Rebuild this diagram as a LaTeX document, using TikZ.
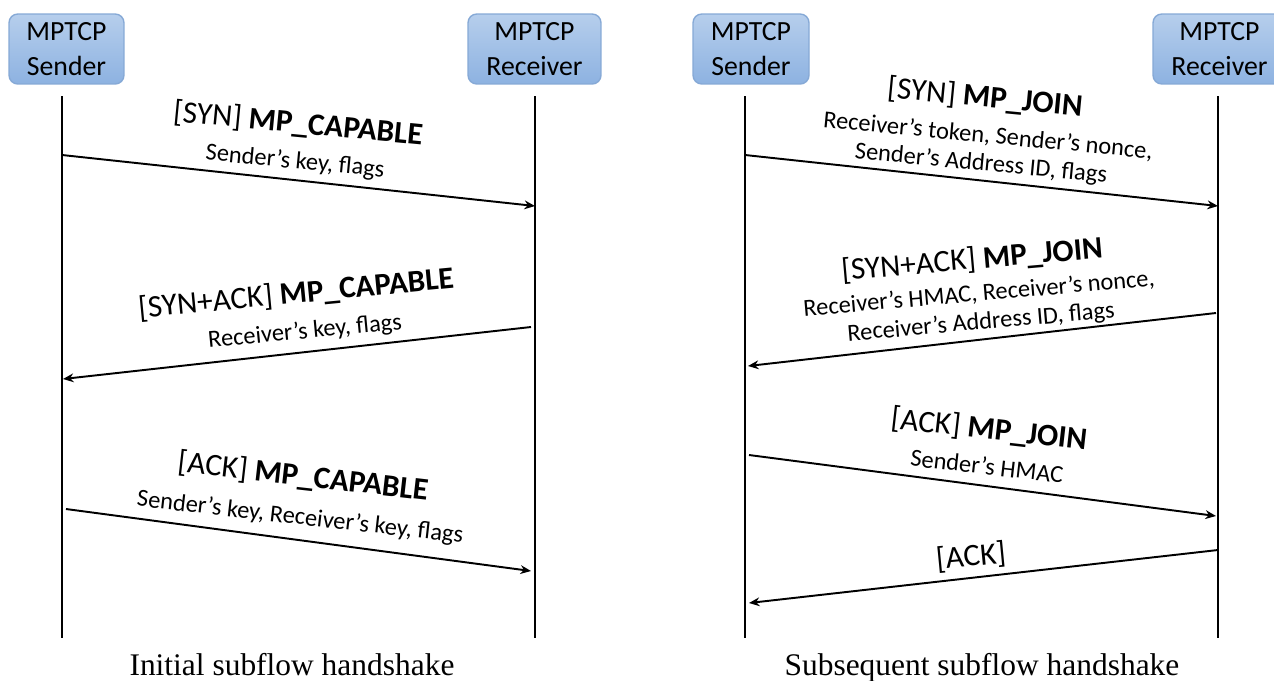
\documentclass[tikz,border=0pt]{standalone}
\usepackage{fontspec}
\setmainfont{Carlito}
\newfontfamily\capfont{Liberation Serif}
\usetikzlibrary{arrows.meta}
\definecolor{boxtop}{HTML}{B6CEEC}
\definecolor{boxbot}{HTML}{8DB2E1}
\definecolor{boxedge}{HTML}{86A9D6}
\tikzset{
  party/.style={rounded corners=5pt, top color=boxtop, bottom color=boxbot,
    draw=boxedge, line width=0.8pt, align=center, inner sep=0pt,
    minimum height=1.4cm, font=\fontsize{15.8}{19.5}\selectfont},
  lifeline/.style={line width=1.1pt},
  msg/.style={line width=1.1pt, -{Stealth[length=6pt,width=5pt]}},
  head/.style={inner sep=0pt, font=\fontsize{17.8}{20}\selectfont},
  body/.style={inner sep=0pt, font=\fontsize{13.9}{16}\selectfont},
  caption/.style={inner sep=0pt, anchor=base, font=\capfont\fontsize{17.9}{20}\selectfont}
}
\begin{document}
\begin{tikzpicture}[x=0.02cm, y=-0.02cm]
\clip (0,0) rectangle (1274,680);
\fill[white] (0,0) rectangle (1274,680);

% ---------- initial subflow handshake ----------
\node[party, minimum width=2.3cm]  (lsnd) at (66.5,49) {MPTCP\\Sender};
\node[party, minimum width=2.66cm] (lrcv) at (534.5,49) {MPTCP\\Receiver};

\coordinate (lsT) at (62,96);  \coordinate (lsB) at (62,638);
\coordinate (lrT) at (535,96); \coordinate (lrB) at (535,638);
\draw[lifeline] (lsT) -- (lsB);
\draw[lifeline] (lrT) -- (lrB);

\coordinate (l1a) at (62,155);  \coordinate (l1b) at (535,206);
\coordinate (l2a) at (531,327); \coordinate (l2b) at (63,379);
\coordinate (l3a) at (66,509);  \coordinate (l3b) at (531,571);
\draw[msg] (l1a) -- (l1b);
\draw[msg] (l2a) -- (l2b);
\draw[msg] (l3a) -- (l3b);

\node[head, rotate=-5.5] (l1h) at (298,124) {[SYN] \textbf{MP\_CAPABLE}};
\node[body, rotate=-5.5] (l1t) at (295,162) {Sender’s key, flags};

\node[head, rotate=5.5] (l2h) at (296,294) {[SYN+ACK] \textbf{MP\_CAPABLE}};
\node[body, rotate=5.5] (l2t) at (305,332) {Receiver’s key, flags};

\node[head, rotate=-6.5] (l3h) at (303,477) {[ACK] \textbf{MP\_CAPABLE}};
\node[body, rotate=-6.5] (l3t) at (300,518) {Sender’s key, Receiver’s key, flags};

\node[caption] (lcap) at (292,675) {Initial subflow handshake};

% ---------- subsequent subflow handshake ----------
\node[party, minimum width=2.32cm] (rsnd) at (751,49) {MPTCP\\Sender};
\node[party, minimum width=2.66cm] (rrcv) at (1219.5,49) {MPTCP\\Receiver};

\coordinate (rsT) at (745,96);  \coordinate (rsB) at (745,638);
\coordinate (rrT) at (1218,96); \coordinate (rrB) at (1218,638);
\draw[lifeline] (rsT) -- (rsB);
\draw[lifeline] (rrT) -- (rrB);

\coordinate (r1a) at (745,155);  \coordinate (r1b) at (1218,206);
\coordinate (r2a) at (1216,313); \coordinate (r2b) at (748,366);
\coordinate (r3a) at (749,455);  \coordinate (r3b) at (1216,516);
\coordinate (r4a) at (1218,550); \coordinate (r4b) at (749,603);
\draw[msg] (r1a) -- (r1b);
\draw[msg] (r2a) -- (r2b);
\draw[msg] (r3a) -- (r3b);
\draw[msg] (r4a) -- (r4b);

\node[head, rotate=-5.5] (r1h) at (985,98) {[SYN] \textbf{MP\_JOIN}};
\node[body, rotate=-5.5] (r1t) at (988,136) {Receiver’s token, Sender’s nonce,};
\node[body, rotate=-5.5] (r1u) at (981,164) {Sender’s Address ID, flags};

\node[head, rotate=5] (r2h) at (972,260) {[SYN+ACK] \textbf{MP\_JOIN}};
\node[body, rotate=5] (r2t) at (979,294) {Receiver’s HMAC, Receiver’s nonce,};
\node[body, rotate=5] (r2u) at (981,323) {Receiver’s Address ID, flags};

\node[head, rotate=-6.5] (r3h) at (989,430) {[ACK] \textbf{MP\_JOIN}};
\node[body, rotate=-6.5] (r3t) at (987,466) {Sender’s HMAC};

\node[head, rotate=5.5] (r4h) at (971,557) {[ACK]};

\node[caption] (rcap) at (982,675) {Subsequent subflow handshake};
\end{tikzpicture}
\end{document}
